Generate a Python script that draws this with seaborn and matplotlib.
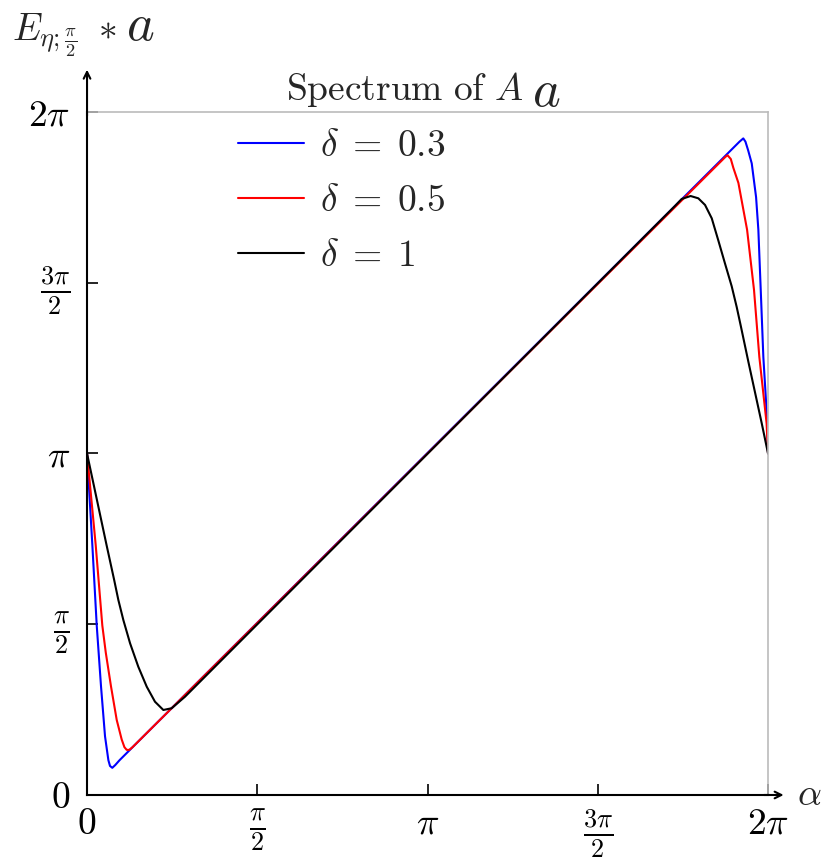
import numpy as np
import pandas as pd
import matplotlib
matplotlib.use('Agg')
import matplotlib.pyplot as plt
import seaborn as sns

# values (alpha, E) for each delta
alpha_03 = [0, 0.049, 0.0895, 0.129, 0.166, 0.197, 0.212, 0.233, 0.26, 0.30,
            6.02, 6.055, 6.075, 6.10, 6.133, 6.173, 6.194, 6.216, 6.24, 6.277, 6.2832]
E_03 = [3.1416, 2.30, 1.56, 1.00, 0.54, 0.32, 0.267, 0.25, 0.275, 0.32,
        6.01, 6.04, 6.01, 5.93, 5.81, 5.50, 5.20, 4.646, 4.03, 3.42, 3.1416]

alpha_05 = [0, 0.08, 0.141, 0.173, 0.221, 0.274, 0.32, 0.345, 0.366, 0.39, 0.42,
            5.86, 5.89, 5.91, 5.94, 5.963, 6.01, 6.09, 6.154, 6.203, 6.27, 6.2832]
E_05 = [3.1416, 2.30, 1.56, 1.31, 1.00, 0.69, 0.51, 0.44, 0.415, 0.415, 0.44,
        5.84, 5.87, 5.885, 5.85, 5.77, 5.63, 5.20, 4.646, 4.03, 3.42, 3.1416]

alpha_1 = [0, 0.18, 0.25, 0.289, 0.335, 0.397, 0.473, 0.551, 0.627, 0.704, 0.781, 0.904,
           5.427, 5.487, 5.569, 5.640, 5.702, 5.764, 5.825, 5.886, 5.948, 5.994, 6.033,
           6.103, 6.225, 6.2832]
E_1 = [3.1416, 2.30, 1.98, 1.794, 1.61, 1.396, 1.18, 0.996, 0.858, 0.782, 0.798, 0.904,
       5.421, 5.483, 5.510, 5.489, 5.428, 5.305, 5.10, 4.89, 4.68, 4.49, 4.31,
       3.98, 3.42, 3.1416]

labels = [r'$\delta\;=\;0.3$', r'$\delta\;=\;0.5$', r'$\delta\;=\;1$']
colors = ['blue', 'red', 'black']

tick_pos = [0, np.pi / 2, np.pi, 3 * np.pi / 2, 2 * np.pi]
tick_labels = [r'$0$', r'$\frac{\pi}{2}$', r'$\pi$', r'$\frac{3\pi}{2}$', r'$2\pi$']

frames = []
for a, e, lab in zip([alpha_03, alpha_05, alpha_1], [E_03, E_05, E_1], labels):
    frames.append(pd.DataFrame({'alpha': a, 'E': e, 'delta': lab}))
df = pd.concat(frames, ignore_index=True)

sns.set_theme(style='white')
plt.rcParams['mathtext.fontset'] = 'cm'
plt.rcParams['font.family'] = ['serif']
plt.rcParams['font.serif'] = ['cmr10', 'DejaVu Serif']
plt.rcParams['axes.unicode_minus'] = False
plt.rcParams['axes.formatter.use_mathtext'] = True

fig = plt.figure(figsize=(8.32, 8.66), dpi=100)
ax = fig.add_axes([0.1046, 0.0820, 0.8185, 0.7887])

sns.lineplot(data=df, x='alpha', y='E', hue='delta', hue_order=labels,
             palette=dict(zip(labels, colors)), sort=False, estimator=None,
             linewidth=1.5, ax=ax)

ax.set_xlim(0, 2 * np.pi)
ax.set_ylim(0, 2 * np.pi)
ax.set_xlabel('')
ax.set_ylabel('')
ax.set_xticks(tick_pos)
ax.set_xticklabels(tick_labels)
ax.set_yticks(tick_pos)
ax.set_yticklabels(tick_labels)
ax.tick_params(direction='in', length=8, width=1.2, colors='black',
               labelsize=27, bottom=True, left=True)
ax.tick_params(axis='x', pad=9)
ax.tick_params(axis='y', pad=12)

for s in ['top', 'right']:
    ax.spines[s].set_color('#bbbbbb')
    ax.spines[s].set_linewidth(1.2)
for s in ['left', 'bottom']:
    ax.spines[s].set_color('black')
    ax.spines[s].set_linewidth(1.5)

# axis arrows
ax.annotate('', xy=(0, 1.066), xytext=(0, 0.99), xycoords='axes fraction',
            arrowprops=dict(arrowstyle='->', lw=1.5, color='black'), annotation_clip=False)
ax.annotate('', xy=(1.027, 0), xytext=(0.99, 0), xycoords='axes fraction',
            arrowprops=dict(arrowstyle='->', lw=1.5, color='black'), annotation_clip=False)

handles, _ = ax.get_legend_handles_labels()
ax.legend(handles, labels, loc='upper left', bbox_to_anchor=(238 / 832, 1 - 130 / 866),
          bbox_transform=fig.transFigure, frameon=False, fontsize=27,
          handlelength=1.75, handletextpad=0.45, labelspacing=0.58,
          borderpad=0, borderaxespad=0)

# title and axis labels
fig.text(405 / 832, 1 - 100 / 866, r'$\mathrm{Spectrum\ of\ }A$', fontsize=27,
         ha='center', va='baseline')
fig.text(546 / 832, 1 - 106 / 866, r'$a$', fontsize=38, ha='center', va='baseline')
fig.text(12 / 832, 1 - 40 / 866, r'$E_{\eta;\frac{\pi}{2}}\ \ast$', fontsize=27,
         ha='left', va='baseline')
fig.text(140 / 832, 1 - 40 / 866, r'$a$', fontsize=38, ha='center', va='baseline')
fig.text(797 / 832, 1 - 795 / 866, r'$\alpha$', fontsize=27, ha='left', va='center')

fig.savefig('out.png', dpi=100)
